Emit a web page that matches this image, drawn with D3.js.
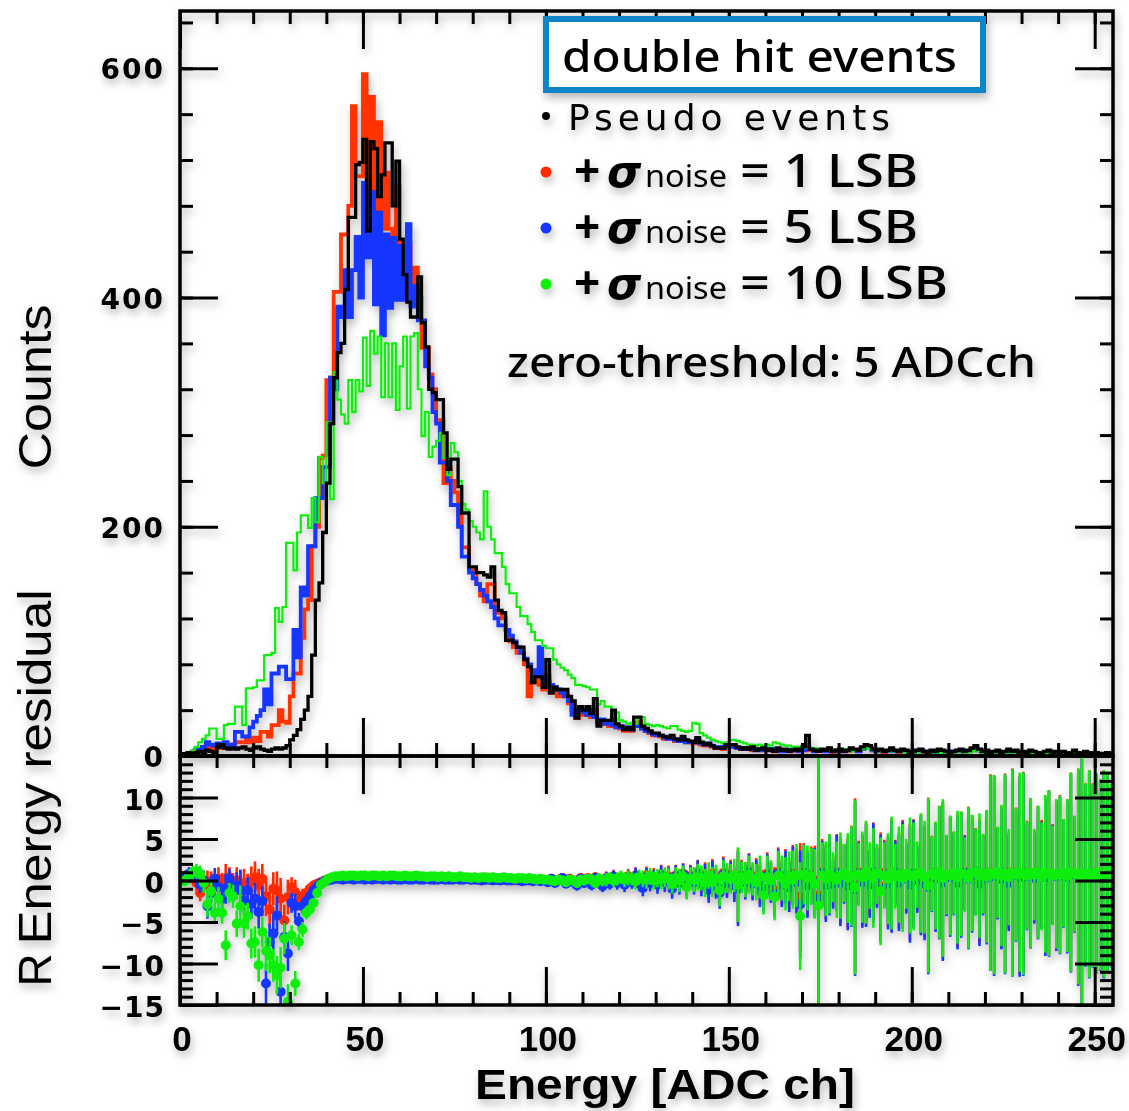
<!DOCTYPE html>
<html><head><meta charset="utf-8">
<script src="https://cdn.jsdelivr.net/npm/d3@7"></script>
<style>body{margin:0;background:#fff}</style>
</head><body>
<svg id="c" width="1129" height="1111"></svg>
<script>
// ---------- DATA ----------
const channels = d3.range(256); // ADC channel bins (width 1)
const xTickValues = [0, 50, 100, 150, 200, 250];
const yTopTickValues = [0, 200, 400, 600];
const yBotTickValues = [-15, -10, -5, 0, 5, 10];
const seriesNames = ["Pseudo events", "+σnoise = 1 LSB", "+σnoise = 5 LSB", "+σnoise = 10 LSB"];

const countsPseudo = [
0,2,3,2,3,4,3,5,4,3, 8,10,7,6,7,6,7,8,6,5, 7,8,6,5,4,6,7,6,7,9,
14,18,23,32,40,52,88,136,151,195, 238,290,330,352,360,407,470,470,516,518,
538,458,536,530,488,507,535,535,480,519, 451,420,396,383,383,418,378,357,320,317,
311,311,282,250,259,259,235,212,212,165, 165,160,160,158,156,165,136,127,125,101,
101,99,95,95,84,78,64,69,69,60, 84,55,60,58,58,58,52,48,33,43,
40,43,37,50,26,31,31,31,40,28, 26,23,25,23,34,34,26,24,22,20,
20,18,17,16,18,15,14,17,14,13, 12,16,12,10,11,9,7,7,7,10,
10,10,8,6,7,6,8,5,6,7, 5,6,4,7,5,6,4,5,6,5, 8,18,6,5,4,6,5,7,4,5,
6,4,5,7,6,5,8,10,9,6, 5,6,4,5,7,5,4,6,5,3, 4,5,6,4,3,5,4,6,5,4,
3,4,5,6,4,5,7,9,6,4, 5,3,4,5,3,4,6,4,5,3, 4,3,5,4,3,2,4,5,3,4,
3,4,2,3,5,3,2,4,3,2, 3,2,2,3,2,1];

const countsNoise1 = [
0,1,2,3,4,6,8,8,7,6, 8,7,9,8,10,12,12,12,14,12, 16,13,21,21,17,27,27,40,30,29,
52,72,72,103,128,136,183,200,260,262, 328,330,405,405,455,455,480,567,506,506,
595,468,575,470,553,460,509,460,455,497, 440,400,445,400,426,400,356,356,333,320,
293,293,238,250,240,230,210,182,182,162, 162,150,140,135,150,150,125,125,120,110,
100,95,90,90,80,52,64,66,62,58, 70,55,58,52,56,52,46,40,33,38,
36,40,34,40,28,28,30,26,32,25, 24,22,23,22,28,30,24,22,20,18,
18,17,15,16,15,13,13,14,12,12, 11,13,10,9,10,8,7,8,6,8,
9,8,7,6,6,7,5,6,5,6, 5,5,4,6,4,5,5,4,6,4, 5,8,5,4,4,5,4,6,3,4,
5,4,4,6,5,4,6,8,7,5, 4,5,3,4,6,4,3,5,4,3, 3,4,5,3,3,4,3,5,4,3,
3,3,4,5,3,4,6,7,5,3, 4,2,3,4,3,3,5,3,4,2, 3,2,4,3,2,2,3,4,2,3,
2,3,2,2,4,2,2,3,2,2, 2,2,1,2,2,1];

const countsNoise5 = [
0,1,2,3,5,6,8,12,10,9, 11,8,12,10,9,21,21,17,17,25, 30,35,40,58,45,72,72,78,78,67,
67,110,86,147,140,183,183,225,225,252, 252,330,320,392,383,424,383,424,453,400,
500,435,492,394,474,367,455,391,452,398, 445,398,464,392,410,380,380,340,330,300,
290,256,256,240,219,219,200,174,174,160, 155,150,145,140,135,130,120,114,114,110,
105,100,95,90,85,80,75,70,95,68, 65,62,60,58,55,52,48,36,40,42,
38,36,40,34,30,32,28,30,27,25, 26,24,25,23,27,26,24,22,21,19,
18,18,16,15,16,14,13,15,12,12, 12,14,11,10,11,9,8,8,7,9,
8,9,7,7,6,6,6,5,6,5, 5,6,5,6,4,5,4,5,6,4, 5,7,6,4,5,5,4,5,4,4,
5,4,5,6,5,4,6,7,7,5, 4,5,4,4,5,4,4,5,4,3, 3,4,5,4,3,4,3,4,4,3,
3,4,4,5,3,4,5,6,5,3, 4,3,3,4,3,3,4,3,3,2, 3,3,3,3,2,2,3,3,2,3,
2,3,2,2,3,2,2,3,2,2, 2,2,1,2,1,1];

const countsNoise10 = [
0,2,3,5,8,12,15,18,24,24, 15,15,27,28,28,43,43,27,59,59, 60,66,66,88,88,90,129,117,130,186,
186,162,195,210,210,199,225,204,261,238, 291,224,335,311,298,290,328,300,328,318,
365,323,371,351,366,313,360,313,360,302, 340,366,303,366,369,320,279,300,261,270,
275,282,260,245,273,265,240,220,215,205, 200,195,189,231,200,189,177,177,165,150,
142,142,130,122,122,115,108,101,101,96, 94,94,84,80,77,75,71,68,62,62,
61,60,58,58,45,48,43,43,37,38, 31,30,28,29,28,34,34,28,27,26,
27,26,25,24,26,26,23,22,21,22, 29,28,20,18,16,14,13,12,11,12,
14,14,13,12,11,10,10,9,10,9, 10,9,12,11,10,9,9,8,8,8, 8,7,6,7,6,6,5,5,6,5,
5,6,5,4,5,5,6,7,6,5, 5,4,4,5,4,4,5,4,3,4, 4,3,4,4,3,3,4,3,3,3,
3,3,4,4,3,3,4,5,4,3, 3,3,3,3,2,3,3,3,2,2, 2,3,2,3,2,2,2,3,2,2,
2,2,2,2,3,2,2,2,2,1, 2,1,1,2,1,1];

const residNoise1 = [
0.0,0.3,0.8,0.7,-0.3,-1.5,-0.5,-0.3,-0.1,-0.6, 0.2,-0.4,0.2,0.4,-0.5,0.0,-1.2,-0.3,-0.8,-0.1,
0.4,-0.6,0.2,-1.9,-3.5,-1.0,-1.2,-2.2,-4.8,-2.0, -0.8,-1.4,-2.6,-1.9,-1.5,-1.0,-0.6,-0.4,-0.2,0.0,
0.1,0.2,0.3,0.3,0.2,0.3,0.3,0.2,0.3,0.3, 0.2,0.3,0.3,0.2,0.3,0.3,0.2,0.3,0.2,0.3,
0.2,0.3,0.2,0.2,0.3,0.2,0.3,0.2,0.2,0.3, 0.2,0.2,0.3,0.2,0.2,0.3,0.2,0.2,0.2,0.1,
0.2,0.1,0.2,0.1,0.2,0.1,0.1,0.2,0.1,0.1, 0.1,0.0,0.1,0.1,0.0,0.1,0.0,0.1,0.0,0.1,
0.0,0.2,-0.1,0.1,0.3,-0.2,0.2,0.0,-0.3,0.3, 0.1,0.3,-0.2,0.4,0.0,-0.3,0.3,-0.1,0.5,0.0,
0.3,-0.2,0.5,0.1,0.6,-0.1,-0.5,0.6,0.0,0.4, -0.2,0.7,0.1,0.5,-0.6,0.6,0.0,0.8,-0.3,0.5,
0.1,0.9,-0.1,0.5,-0.7,0.8,-0.2,-1.0,0.9,0.0, 0.7,-0.3,-0.7,0.6,0.1,1.0,-0.1,0.5,-0.4,-1.0,
0.8,0.0,-1.2,1.0,-0.2,0.6,-0.5,0.8,0.1,-2.0, 0.9,-0.3,0.7,0.0,-1.8,1.0,-0.2,0.8,-0.1,1.0,
0.0,0.9,-0.3,0.6,-0.6,1.0,0.1,0.8,-0.2,1.0, 0.5,-0.7,0.9,-0.1,0.7,1.0,0.0,0.8,0.4,-0.2,
0.9,0.3,0.8,-0.1,-0.5,0.9,0.5,1.0,0.1,0.7, 0.6,0.9,0.0,0.8,1.0,0.4,0.9,1.1,-0.1,0.8,
0.5,1.0,0.7,0.9,0.4,0.9,0.0,1.0,0.8,0.6, 0.9,0.7,0.9,0.5,1.0,0.8,0.6,0.9,0.8,0.7,
0.8,0.9,0.6,1.0,0.8,0.5,0.9,0.7,0.8,0.7, 0.9,0.7,0.8,1.0,0.6,0.8];

const residNoise5 = [
0.2,0.5,0.8,0.6,0.3,-0.5,0.0,-3.1,-1.5,0.2, -0.8,-2.2,-1.0,0.2,-1.2,-0.6,-1.2,-2.4,-1.2,-2.8,
-2.2,-3.8,-2.5,-12.4,-7.4,-6.4,-4.2,-13.4,-6.8,-8.8, -2.7,-3.1,-4.9,-3.1,-2.5,-1.9,-1.2,-0.7,-0.3,-0.1,
0.0,0.1,0.2,0.2,0.1,0.2,0.2,0.1,0.2,0.2, 0.1,0.2,0.1,0.2,0.2,0.1,0.2,0.1,0.2,0.1,
0.1,0.2,0.1,0.1,0.2,0.1,0.1,0.2,0.1,0.1, 0.1,0.2,0.1,0.1,0.1,0.2,0.1,0.1,0.2,0.1,
0.1,0.1,0.0,0.1,0.1,0.0,0.1,0.0,0.1,0.0, 0.0,0.1,0.0,-0.1,0.0,0.0,-0.1,0.0,-0.1,0.0,
-0.2,0.2,-0.3,0.0,0.3,-0.4,0.1,-0.2,-0.6,0.2, -0.3,0.1,-0.5,0.3,-0.2,-0.7,0.2,-0.4,0.4,-0.3,
0.1,-0.5,0.3,-0.2,0.5,-0.4,-0.9,0.4,-0.3,0.2, -0.5,0.6,-0.2,0.3,-1.0,0.5,-0.3,0.7,-0.6,0.4,
-0.2,0.8,-0.4,0.3,-1.1,0.6,-0.5,-1.5,0.7,-0.3, 0.5,-0.6,-1.0,0.4,-0.2,0.9,-0.4,0.3,-0.7,-1.4,
0.6,-0.3,-1.6,0.8,-0.5,0.4,-0.8,0.6,-0.2,-2.9, 0.7,-0.6,0.5,-0.3,-2.2,0.8,-0.5,0.6,-0.4,0.9,
-0.3,0.7,-0.6,0.4,-1.0,0.8,-0.2,0.6,-0.5,0.9, 0.3,-1.0,0.7,-0.4,0.5,0.9,-0.3,0.6,0.2,-0.5,
0.8,0.1,0.6,-0.4,-0.8,0.7,0.3,0.9,-0.2,0.5, 0.4,0.8,-0.3,0.6,0.9,0.2,0.7,1.0,-0.4,0.6,
0.3,0.9,0.5,0.8,0.2,0.7,-0.3,0.9,0.6,0.4, 0.7,0.5,0.8,0.3,0.9,0.6,0.4,0.8,0.7,0.5,
0.6,0.8,0.4,0.9,0.7,0.3,0.8,0.6,0.7,0.5, 0.8,0.6,0.7,0.9,0.5,0.7];

const residNoise10 = [
-0.1,0.0,0.5,1.0,1.1,0.8,-0.3,-2.9,-1.3,-3.9, -2.2,-3.9,-7.8,-1.5,-1.9,-5.2,-3.1,-5.2,-4.3,-7.6,
-7.4,-10.2,-6.2,-8.5,-9.0,-10.2,-11.4,-10.5,-7.0,-14.6, -6.6,-12.4,-7.4,-5.9,-3.9,-3.5,-2.7,-1.5,-0.5,-0.2,
0.2,0.4,0.5,0.5,0.6,0.5,0.6,0.6,0.5,0.6, 0.6,0.5,0.6,0.6,0.5,0.6,0.5,0.6,0.6,0.5,
0.5,0.6,0.5,0.5,0.6,0.5,0.5,0.4,0.5,0.5, 0.4,0.5,0.4,0.5,0.4,0.4,0.5,0.4,0.4,0.3,
0.4,0.3,0.4,0.4,0.3,0.4,0.3,0.3,0.4,0.3, 0.3,0.2,0.3,0.3,0.2,0.3,0.2,0.1,0.2,0.1,
0.1,0.0,-0.1,0.1,0.0,-0.2,0.1,0.0,-0.3,0.1, 0.0,0.2,0.1,-0.3,0.2,0.0,0.1,0.3,0.0,0.2,
0.4,0.1,0.3,0.2,-0.1,0.4,0.2,0.1,0.5,0.0, 0.3,0.1,0.4,0.2,-0.4,0.3,0.0,0.5,-0.8,0.2,
0.1,0.4,0.3,-0.3,0.6,-0.2,0.2,-1.2,0.5,0.3, 0.2,0.6,-0.5,0.4,0.1,0.7,0.2,-0.2,0.5,-1.8,
0.4,0.0,-2.0,0.6,0.3,-0.4,0.5,0.1,0.6,-4.3, 0.7,0.3,0.5,-0.4,-3.0,0.6,0.2,0.8,0.4,0.1,
0.6,0.9,0.3,0.5,-0.8,0.7,0.4,1.0,0.6,0.3, 0.8,-1.3,0.6,0.2,0.9,0.5,0.7,0.3,0.8,0.6,
0.5,0.7,0.9,0.4,-0.6,0.8,0.6,1.0,0.3,0.7, 0.6,0.9,0.4,0.8,0.7,0.3,0.9,1.0,0.6,0.8,
0.5,0.9,0.7,1.0,0.6,0.8,0.4,0.9,0.7,1.0, 0.8,0.6,0.9,0.7,1.0,0.5,0.8,0.9,0.6,0.8,
0.7,0.9,0.6,1.0,0.8,0.5,0.9,0.7,0.8,0.6, 0.9,0.7,0.8,1.0,0.6,0.8];

const residError = [
0.6,0.7,0.8,0.8,0.9,1.0,1.2,1.5,1.2,1.3, 1.4,1.3,1.8,1.2,1.4,1.6,2.5,1.7,1.6,1.8,
1.9,2.0,1.8,2.4,2.2,2.0,2.3,2.5,1.9,2.1, 1.2,1.5,1.0,0.9,0.8,0.7,0.6,0.5,0.4,0.4,
0.3,0.3,0.3,0.3,0.3,0.3,0.3,0.3,0.3,0.3, 0.3,0.3,0.3,0.3,0.3,0.3,0.3,0.3,0.3,0.3,
0.3,0.3,0.3,0.3,0.3,0.3,0.3,0.3,0.3,0.3, 0.3,0.3,0.3,0.3,0.3,0.3,0.3,0.3,0.3,0.3,
0.3,0.3,0.3,0.3,0.3,0.3,0.3,0.3,0.3,0.3, 0.3,0.3,0.3,0.3,0.3,0.3,0.3,0.3,0.3,0.3,
0.4,0.4,0.5,0.4,0.5,0.5,0.5,0.6,0.6,0.5, 0.6,0.6,0.7,0.6,0.7,0.7,0.8,0.7,0.8,0.8,
0.8,0.9,0.9,0.8,1.0,0.9,1.0,1.1,1.0,1.1, 1.1,1.2,1.2,1.3,1.2,1.3,1.4,1.3,1.5,1.4,
1.5,1.6,1.5,1.7,1.6,1.8,1.7,1.9,2.0,1.8, 1.8,2.0,4.5,1.9,2.1,2.3,2.0,2.2,2.5,2.3,
2.6,2.4,2.8,3.0,2.7,3.2,3.0,3.5,3.8,6.5, 3.6,3.9,3.4,4.2,20,4.0,4.5,4.8,3.0,4.6,
5.2,3.5,5.4,6.0,10.5,3.8,5.5,6.2,4.0,6.0, 3.6,6.5,4.0,5.5,6.8,3.9,5.8,6.5,4.2,7.0,
6.5,4.0,7.2,6.8,10.5,4.5,6.5,8.0,9.5,4.8, 7.2,5.0,8.0,7.5,4.5,8.5,7.0,5.2,7.5,4.8,
8.0,11.8,12.0,5.5,8.5,12.0,5.8,12.5,8.0,12.0, 12.2,6.5,9.0,5.5,8.0,6.5,9.5,10.0,6.0,9.0,
9.5,6.5,9.2,12.0,7.0,13.0,20,11.0,12.5,11.0, 12.0,11.5,12.5,12.0,11.0,12.0];

// ---------- SETUP ----------
const svg = d3.select("#c");
const L = 180, R = 1113, T = 11, MID = 756, B = 1005;
const x = d3.scaleLinear().domain([0, 255]).range([L, R]);
const yT = d3.scaleLinear().domain([0, 650]).range([MID, T]);
const yB = d3.scaleLinear().domain([-15, 15]).range([B, MID]);

const defs = svg.append("defs");
const f = defs.append("filter").attr("id", "sh").attr("filterUnits", "userSpaceOnUse")
  .attr("x", 0).attr("y", 0).attr("width", 1129).attr("height", 1111);
f.append("feDropShadow").attr("dx", 2).attr("dy", 5).attr("stdDeviation", 4)
  .attr("flood-color", "#000").attr("flood-opacity", 0.28);
defs.append("clipPath").attr("id", "cTop").append("rect")
  .attr("x", L).attr("y", T).attr("width", R - L).attr("height", MID - T);
defs.append("clipPath").attr("id", "cBot").append("rect")
  .attr("x", L).attr("y", MID).attr("width", R - L).attr("height", B - MID);

svg.append("rect").attr("width", 1129).attr("height", 1111).attr("fill", "#fff");
const root = svg.append("g").attr("filter", "url(#sh)");

// ---------- HISTOGRAMS ----------
const COL = { black: "#000", red: "#ff3300", blue: "#1436ff", green: "#11ee11" };
const stepLine = d3.line().x(d => x(d[0])).y(d => yT(d[1])).curve(d3.curveStepAfter);
function pts(arr) { const p = arr.map((v, i) => [channels[i], v]); p.push([256, arr[arr.length - 1]]); return p; }
const hg = root.append("g").attr("clip-path", "url(#cTop)");
[[countsNoise1, COL.red, 3.8], [countsNoise5, COL.blue, 3.8], [countsNoise10, COL.green, 2.2], [countsPseudo, COL.black, 3.3]]
  .forEach(([arr, c, w]) => {
    hg.append("path").attr("d", stepLine(pts(arr))).attr("fill", "none")
      .attr("stroke", c).attr("stroke-width", w).attr("stroke-linejoin", "miter");
  });

// ---------- RESIDUALS ----------
const rg = root.append("g").attr("clip-path", "url(#cBot)");
[[residNoise1, "#ff2a00"], [residNoise5, "#1436ff"], [residNoise10, "#11ee11"]].forEach(([arr, c]) => {
  const g = rg.append("g");
  g.selectAll("line").data(arr).join("line")
    .attr("x1", (d, i) => x(channels[i] + 0.5)).attr("x2", (d, i) => x(channels[i] + 0.5))
    .attr("y1", (d, i) => yB(d - residError[i])).attr("y2", (d, i) => yB(d + residError[i]))
    .attr("stroke", c).attr("stroke-width", 2.6);
  g.selectAll("circle").data(arr).join("circle")
    .attr("cx", (d, i) => x(channels[i] + 0.5)).attr("cy", d => yB(d)).attr("r", 5).attr("fill", c);
});

// ---------- AXES ----------
function tk(sel, axis) {
  const g = root.append("g").attr("transform", sel).call(axis);
  g.select(".domain").remove();
  g.selectAll(".tick text").remove();
  g.selectAll(".tick line").attr("stroke", "#000").attr("stroke-width", 3);
}
const xMinor = d3.range(0, 256, 10);
// upper panel
tk(`translate(0,${MID})`, d3.axisBottom(x).tickValues(xTickValues).tickSize(-38));
tk(`translate(0,${MID})`, d3.axisBottom(x).tickValues(xMinor).tickSize(-13));
tk(`translate(0,${T})`, d3.axisTop(x).tickValues(xTickValues).tickSize(-38));
tk(`translate(0,${T})`, d3.axisTop(x).tickValues(xMinor).tickSize(-13));
tk(`translate(${L},0)`, d3.axisLeft(yT).tickValues(yTopTickValues).tickSize(-38));
tk(`translate(${L},0)`, d3.axisLeft(yT).tickValues(d3.range(0, 651, 40)).tickSize(-13));
tk(`translate(${R},0)`, d3.axisRight(yT).tickValues(yTopTickValues).tickSize(-38));
tk(`translate(${R},0)`, d3.axisRight(yT).tickValues(d3.range(0, 651, 40)).tickSize(-13));
// lower panel
tk(`translate(0,${B})`, d3.axisBottom(x).tickValues(xTickValues).tickSize(-38));
tk(`translate(0,${B})`, d3.axisBottom(x).tickValues(xMinor).tickSize(-13));
tk(`translate(0,${MID})`, d3.axisTop(x).tickValues(xTickValues).tickSize(-38));
tk(`translate(0,${MID})`, d3.axisTop(x).tickValues(xMinor).tickSize(-12));
tk(`translate(${L},0)`, d3.axisLeft(yB).tickValues([-15, -10, -5, 0, 5, 10, 15]).tickSize(-38));
tk(`translate(${L},0)`, d3.axisLeft(yB).tickValues(d3.range(-15, 16, 1)).tickSize(-13));
tk(`translate(${R},0)`, d3.axisRight(yB).tickValues([-15, -10, -5, 0, 5, 10, 15]).tickSize(-38));
tk(`translate(${R},0)`, d3.axisRight(yB).tickValues(d3.range(-15, 16, 1)).tickSize(-13));

root.append("rect").attr("x", L).attr("y", T).attr("width", R - L).attr("height", MID - T)
  .attr("fill", "none").attr("stroke", "#000").attr("stroke-width", 3.5);
root.append("rect").attr("x", L).attr("y", MID).attr("width", R - L).attr("height", B - MID)
  .attr("fill", "none").attr("stroke", "#000").attr("stroke-width", 3.5);

// ---------- TICK LABELS ----------
const fmt = d3.format("d");
root.append("g").selectAll("text").data(yTopTickValues).join("text")
  .attr("x", 165).attr("y", d => yT(d) + 11).attr("text-anchor", "end")
  .attr("font-family", "DejaVu Sans").attr("font-weight", "bold").attr("font-size", 28)
  .attr("letter-spacing", 2).text(fmt);
root.append("g").selectAll("text").data(yBotTickValues).join("text")
  .attr("x", 165).attr("y", d => yB(d) + 12).attr("text-anchor", "end")
  .attr("font-family", "DejaVu Sans").attr("font-weight", "bold").attr("font-size", 28)
  .attr("letter-spacing", 1).text(fmt);
root.append("g").selectAll("text").data(xTickValues).join("text")
  .attr("x", d => x(d) + 2).attr("y", 1051).attr("text-anchor", "middle")
  .attr("font-family", "Liberation Sans").attr("font-weight", "bold").attr("font-size", 35)
  .text(fmt);

// ---------- AXIS TITLES ----------
root.append("text")
  .attr("x", 475).attr("y", 1099).attr("font-family", "Liberation Sans").attr("font-weight", "bold")
  .attr("font-size", 42).attr("textLength", 380).attr("lengthAdjust", "spacingAndGlyphs")
  .text("Energy [ADC ch]");
root.append("text").attr("transform", "translate(51,387) rotate(-90)").attr("text-anchor", "middle")
  .attr("font-family", "Liberation Sans").attr("font-size", 46)
  .attr("textLength", 165).attr("lengthAdjust", "spacingAndGlyphs").text("Counts");
root.append("text").attr("transform", "translate(51,767) rotate(-90)").attr("text-anchor", "middle")
  .attr("font-family", "Liberation Sans").attr("font-size", 46)
  .attr("textLength", 355).attr("lengthAdjust", "spacingAndGlyphs").text("Energy residual");
root.append("text").attr("transform", "translate(51,970) rotate(-90)").attr("text-anchor", "middle")
  .attr("font-family", "Liberation Sans").attr("font-size", 46).text("R");

// ---------- LEGEND ----------
const lg = root.append("g");
lg.append("rect").attr("x", 546).attr("y", 19).attr("width", 437).attr("height", 71)
  .attr("fill", "#fff").attr("stroke", "#0a86c8").attr("stroke-width", 6);
lg.append("text").attr("x", 562).attr("y", 72).attr("font-family", "Noto Sans").attr("font-weight", "500")
  .attr("font-size", 44)
  .attr("textLength", 395).attr("lengthAdjust", "spacingAndGlyphs").text("double hit events");
lg.append("circle").attr("cx", 546).attr("cy", 116).attr("r", 4).attr("fill", "#000");
lg.append("text").attr("x", 568).attr("y", 130).attr("font-family", "DejaVu Sans").attr("font-size", 36)
  .attr("textLength", 322).attr("lengthAdjust", "spacing").text(seriesNames[0]);
const legendRows = [
  { c: "#ff2a00", lsb: "1 LSB", y: 187, len: 178 },
  { c: "#1436ff", lsb: "5 LSB", y: 243, len: 178 },
  { c: "#11ee11", lsb: "10 LSB", y: 299, len: 208 }];
legendRows.forEach(r => {
  lg.append("circle").attr("cx", 546).attr("cy", r.y - 15).attr("r", 5.5).attr("fill", r.c);
  lg.append("text").attr("x", 574).attr("y", r.y).attr("font-family", "Noto Sans").attr("font-weight", "bold")
    .attr("font-size", 46).text("+");
  lg.append("text").attr("x", 607).attr("y", r.y).attr("font-family", "DejaVu Sans").attr("font-style", "italic")
    .attr("font-weight", "bold").attr("font-size", 44).text("σ");
  lg.append("text").attr("x", 645).attr("y", r.y).attr("font-family", "Noto Sans")
    .attr("font-size", 31).attr("textLength", 82).attr("lengthAdjust", "spacingAndGlyphs").text("noise");
  lg.append("text").attr("x", 740).attr("y", r.y).attr("font-family", "Noto Sans").attr("font-weight", "500")
    .attr("font-size", 46).attr("textLength", r.len).attr("lengthAdjust", "spacingAndGlyphs")
    .text("= " + r.lsb);
});
lg.append("text").attr("x", 507).attr("y", 377).attr("font-family", "Noto Sans").attr("font-weight", "500")
  .attr("font-size", 42).attr("textLength", 529).attr("lengthAdjust", "spacingAndGlyphs")
  .text("zero-threshold: 5 ADCch");
</script>
</body></html>
